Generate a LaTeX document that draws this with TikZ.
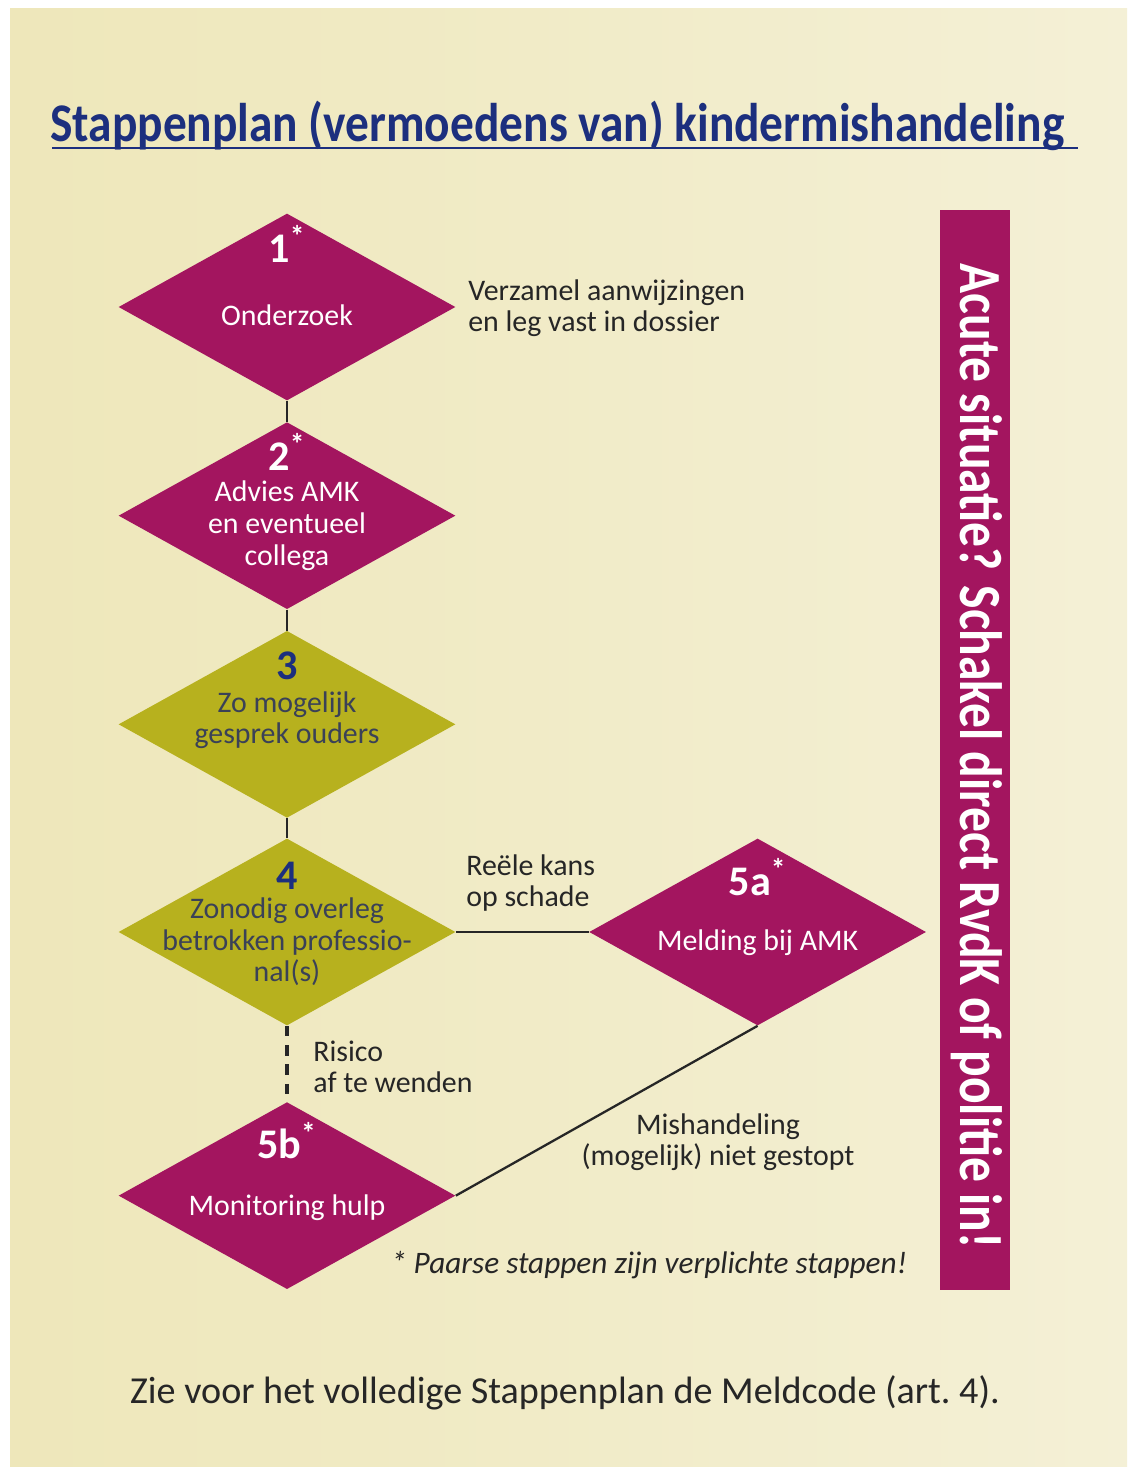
\documentclass[tikz,border=0pt]{standalone}
\usepackage{fontspec}
\setmainfont{Carlito}
\usetikzlibrary{shapes.geometric, positioning}
\definecolor{paper}{HTML}{F2EDC9}
\definecolor{paperwarm}{HTML}{EEE7BA}
\definecolor{paperpale}{HTML}{F4F0D6}
\definecolor{plum}{HTML}{A3155F}
\definecolor{stepolive}{HTML}{B7B11E}
\definecolor{titleblue}{HTML}{1C2F7E}
\definecolor{darkslate}{HTML}{3A4157}
\definecolor{ink}{HTML}{262626}

\begin{document}
\begin{tikzpicture}[
			x=0.02cm, y=-0.02cm,
			nodes = {
				align = center,
				inner sep = 0pt
			},
			diamondbase/.style={
				diamond,
				minimum width=6.74cm,
				minimum height=3.74cm
			},
			purplestep/.style={diamondbase, fill=plum},
			olivestep/.style={diamondbase, fill=stepolive},
			number/.style={font=\fontsize{24}{24}\selectfont\bfseries},
			steptext/.style={font=\fontsize{17}{18}\selectfont},
			remark/.style={
				text=ink,
				font=\fontsize{17}{17.5}\selectfont
			},
			lines/.style={
				line width=1.3pt,
				draw=ink
			}
		]
			\useasboundingbox (0,0) rectangle (1130,1472);
			\fill[white] (0,0) rectangle (1130,1472);
			\shade[left color=paperwarm, right color=paperpale] (10,8) rectangle (1127,1466);

			\node[anchor=west, text=titleblue,
				font=\fontsize{31}{31}\selectfont\bfseries]
				(title) at (50,126)
				{\scalebox{0.87}[1]{Stappenplan (vermoedens van) kindermishandeling}};
			\draw[titleblue, line width=1.3pt] (52,148) -- (1078,148);

			\node[purplestep] (s1) at (287,307) {};
			\node[purplestep, below=0.42cm of s1] (s2) {};
			\node[olivestep, below=0.42cm of s2] (s3) {};
			\node[olivestep, below=0.4cm of s3] (s4) {};
			\node[purplestep, right=2.66cm of s4] (s5a) {};
			\node[purplestep, below=1.52cm of s4] (s5b) {};

			\node[number, text=white] (n1) at ([yshift=1.26cm]s1) {1\textsuperscript{*}};
			\node[steptext, text=white] (t1) at ([yshift=-0.16cm]s1) {Onderzoek};

			\node[number, text=white] (n2) at ([yshift=1.28cm]s2) {2\textsuperscript{*}};
			\node[steptext, text=white] (t2) at ([yshift=-0.2cm]s2) {
				Advies AMK\\
				en eventueel\\
				collega
			};

			\node[number, text=titleblue] (n3) at ([yshift=1.18cm]s3) {3};
			\node[steptext, text=darkslate] (t3) at ([yshift=0.08cm]s3) {
				Zo mogelijk\\
				gesprek ouders
			};

			\node[number, text=titleblue] (n4) at ([yshift=1.12cm]s4) {4};
			\node[steptext, text=darkslate] (t4) at ([yshift=-0.2cm]s4) {
				Zonodig overleg\\
				betrokken professio-\\
				nal(s)
			};

			\node[number, text=white] (n5a) at ([yshift=1.1cm]s5a) {5a\textsuperscript{*}};
			\node[steptext, text=white] (t5a) at ([yshift=-0.22cm]s5a) {Melding bij AMK};

			\node[number, text=white] (n5b) at ([yshift=1.1cm]s5b) {5b\textsuperscript{*}};
			\node[steptext, text=white] (t5b) at ([yshift=-0.24cm]s5b) {Monitoring hulp};

			\draw[lines] (s1) -- (s2);
			\draw[lines] (s2) -- (s3);
			\draw[lines] (s3) -- (s4);
			\draw[lines] (s4) -- (s5a);
			\draw[lines] (s5a.south) -- (s5b.east);
			\draw[lines, line width=2.8pt, dash pattern=on 6pt off 5pt] (s4) -- (s5b);

			\node[remark, anchor=west, align=left] (verz) at (468,308) {
				Verzamel aanwijzingen\\
				en leg vast in dossier
			};
			\node[remark, anchor=west, align=left] (kans) at (466,883) {
				Reële kans\\
				op schade
			};
			\node[remark, anchor=west, align=left] (risico) at (313,1067) {
				Risico\\
				af te wenden
			};
			\node[remark] (mish) at (718,1142) {
				Mishandeling\\
				(mogelijk) niet gestopt
			};
			\node[remark, font=\fontsize{17.8}{18}\selectfont\itshape] (note) at (649,1265)
				{* Paarse stappen zijn verplichte stappen!};

			\node[fill=plum, minimum width=1.4cm, minimum height=21.6cm] (bar) at (975,750) {};
			\node[rotate=-90, text=white, font=\fontsize{34}{34}\selectfont\bfseries]
				(acuut) at (977,756)
				{\scalebox{0.83}[1]{Acute situatie? Schakel direct RvdK of politie in!}};

			\node[text=ink, font=\fontsize{21.7}{22}\selectfont] (meldcode) at (565,1393)
				{Zie voor het volledige Stappenplan de Meldcode (art.~4).};
		\end{tikzpicture}
\end{document}
